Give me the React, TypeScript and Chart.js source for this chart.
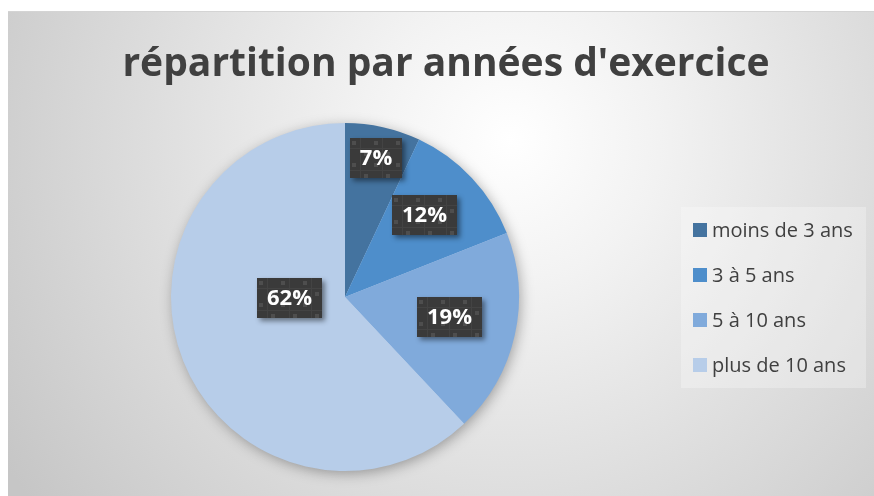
import React, { useEffect, useRef } from "react";
import { Chart, registerables } from "chart.js";

Chart.register(...registerables);

const categories = ["moins de 3 ans", "3 à 5 ans", "5 à 10 ans", "plus de 10 ans"];
const values = [7, 12, 19, 62];
const valueLabels = ["7%", "12%", "19%", "62%"];
const colors = ["#44739f", "#4e8ecb", "#80aadb", "#b7cde9"];
const titleText = "répartition par années d'exercice";

// label placement: fraction of radius and angular offset (deg) from slice middle
const labelRadius = [0.817, 0.655, 0.609, 0.32];
const labelAngleOffset = [0, -2.5, -1.7, 20.6];

const W = 874;
const H = 496;

function makePattern(ctx: CanvasRenderingContext2D) {
  const t = document.createElement("canvas");
  t.width = 22;
  t.height = 22;
  const c = t.getContext("2d")!;
  c.fillStyle = "#3a3a3a";
  c.fillRect(0, 0, 22, 22);
  c.fillStyle = "#434343";
  c.fillRect(10, 0, 1, 22);
  c.fillRect(0, 10, 22, 1);
  c.fillStyle = "#4e4e4e";
  c.fillRect(2, 3, 4, 4);
  c.fillRect(14, 14, 4, 4);
  return ctx.createPattern(t, "repeat");
}

const decorPlugin = {
  id: "decor",
  beforeDraw(chart: any) {
    const ctx: CanvasRenderingContext2D = chart.ctx;
    ctx.save();
    ctx.fillStyle = "#ffffff";
    ctx.fillRect(0, 0, W, H);
    const g = ctx.createRadialGradient(510, 140, 0, 510, 140, 600);
    g.addColorStop(0, "#ffffff");
    g.addColorStop(0.25, "#f2f2f2");
    g.addColorStop(1, "#c6c6c6");
    ctx.fillStyle = g;
    ctx.fillRect(8, 11, W - 8, H - 11);
    ctx.fillStyle = "#d4d4d4";
    ctx.fillRect(8, 11, W - 8, 1);
    // title
    ctx.fillStyle = "#404040";
    ctx.font = "bold 39px 'Open Sans'";
    ctx.textAlign = "center";
    ctx.textBaseline = "alphabetic";
    ctx.fillText(titleText, 446, 76);
    // legend
    ctx.fillStyle = "rgba(255,255,255,0.28)";
    ctx.fillRect(681, 207, 185, 181);
    const labels = chart.data.labels as string[];
    const bg = chart.data.datasets[0].backgroundColor as string[];
    ctx.font = "20px 'Open Sans'";
    ctx.textAlign = "left";
    ctx.textBaseline = "middle";
    labels.forEach((l, i) => {
      const cy = 230 + i * 45;
      ctx.fillStyle = bg[i];
      ctx.fillRect(693, cy - 7, 14, 14);
      ctx.fillStyle = "#404040";
      ctx.fillText(l, 712, cy + 1);
    });
    ctx.restore();
  },
  beforeDatasetsDraw(chart: any) {
    const meta = chart.getDatasetMeta(0);
    const a = meta.data[0];
    if (!a) return;
    const ctx: CanvasRenderingContext2D = chart.ctx;
    ctx.save();
    ctx.shadowColor = "rgba(0,0,0,0.35)";
    ctx.shadowBlur = 14;
    ctx.shadowOffsetX = 2;
    ctx.shadowOffsetY = 3;
    ctx.fillStyle = "#b7cde9";
    ctx.beginPath();
    ctx.arc(a.x, a.y, a.outerRadius - 1, 0, Math.PI * 2);
    ctx.fill();
    ctx.restore();
  },
  afterDatasetsDraw(chart: any) {
    const ctx: CanvasRenderingContext2D = chart.ctx;
    const meta = chart.getDatasetMeta(0);
    const pattern = makePattern(ctx);
    ctx.save();
    ctx.font = "bold 22px 'Open Sans'";
    meta.data.forEach((arc: any, i: number) => {
      const mid = (arc.startAngle + arc.endAngle) / 2 + (labelAngleOffset[i] * Math.PI) / 180;
      const r = arc.outerRadius * labelRadius[i];
      const x = arc.x + Math.cos(mid) * r;
      const y = arc.y + Math.sin(mid) * r;
      const text = valueLabels[i];
      const tw = ctx.measureText(text).width;
      const bw = Math.round(tw + 20);
      const bh = 40;
      const bx = Math.round(x - bw / 2);
      const by = Math.round(y - bh / 2);
      ctx.save();
      ctx.shadowColor = "rgba(0,0,0,0.45)";
      ctx.shadowBlur = 5;
      ctx.shadowOffsetX = 3;
      ctx.shadowOffsetY = 3;
      ctx.fillStyle = "#3a3a3a";
      ctx.fillRect(bx, by, bw, bh);
      ctx.restore();
      ctx.save();
      ctx.translate(bx, by);
      ctx.fillStyle = pattern || "#3a3a3a";
      ctx.fillRect(0, 0, bw, bh);
      ctx.restore();
      ctx.fillStyle = "#ffffff";
      ctx.textAlign = "center";
      ctx.textBaseline = "middle";
      ctx.fillText(text, bx + bw / 2, by + bh / 2 + 1);
    });
    ctx.restore();
  },
};

export default function App() {
  const ref = useRef<HTMLCanvasElement>(null);
  useEffect(() => {
    if (!ref.current) return;
    const chart = new Chart(ref.current, {
      type: "pie",
      data: {
        labels: categories,
        datasets: [
          {
            data: values,
            backgroundColor: colors,
            borderWidth: 0,
          },
        ],
      },
      options: {
        animation: false,
        responsive: false,
        events: [],
        layout: { padding: { top: 123, bottom: 25, left: 171, right: 355 } },
        plugins: {
          legend: { display: false },
          tooltip: { enabled: false },
          title: { display: false },
        },
      },
      plugins: [decorPlugin],
    });
    return () => chart.destroy();
  }, []);
  return (
    <div style={{ position: "fixed", left: 0, top: 0, width: W, height: H }}>
      <canvas ref={ref} width={W} height={H} style={{ width: W, height: H, display: "block" }} />
    </div>
  );
}
